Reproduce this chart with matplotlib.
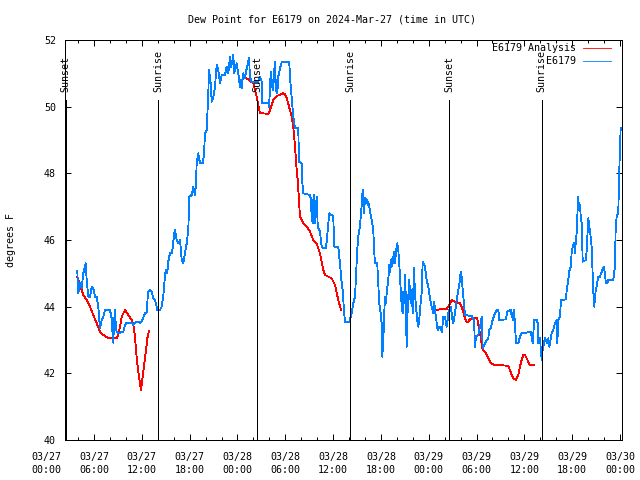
import numpy as np
import matplotlib
matplotlib.use('Agg')
import matplotlib.pyplot as plt
import matplotlib.transforms as mtransforms

plt.rcParams['font.family'] = 'DejaVu Sans Mono'
plt.rcParams['font.size'] = 7.2

# time axis: hours since 2024-03-27 00:00 UTC
obs_hr = [3.90, 4.03, 4.24, 4.45, 4.65, 4.96, 5.08, 5.28, 5.50, 5.71, 5.91, 6.12, 6.34, 6.54, 6.66,
          6.75, 6.96, 7.16, 7.38, 7.59, 8.00, 8.22, 8.29, 8.42, 8.51, 8.63, 8.76, 8.92, 9.26, 9.67,
          9.89, 10.10, 10.73, 10.93, 11.14, 11.56, 11.77, 11.98, 12.40, 12.61, 12.74, 12.81, 13.02,
          13.24, 13.44, 13.65, 13.86, 13.94, 14.28, 14.49, 14.69, 14.91, 15.03, 15.19, 15.32, 15.53,
          15.75, 15.87, 16.04, 16.16, 16.37, 16.57, 16.79, 17.00, 17.20, 17.42, 17.63, 17.83, 17.96,
          18.26, 18.46, 18.67, 18.80, 18.88, 19.08, 19.30, 19.64, 19.80, 19.92, 20.14, 20.21, 20.34,
          20.43, 20.55, 20.64, 20.77, 20.97, 21.18, 21.39, 21.59, 21.81, 22.02, 22.43, 22.65, 22.85,
          23.06, 23.19, 23.31, 23.48, 23.60, 23.73, 23.90, 24.10, 24.32, 24.40, 24.53, 24.73, 24.94,
          25.16, 25.45, 25.57, 25.78, 26.61, 26.83, 27.04, 27.11, 27.87, 27.96, 28.08, 28.17, 28.29,
          28.37, 28.49, 28.58, 28.71, 28.83, 29.00, 29.12, 29.34, 29.55, 30.50, 30.59, 30.80, 31.00,
          31.22, 31.63, 31.72, 32.06, 32.13, 32.26, 33.10, 33.19, 33.31, 33.44, 33.51, 33.64, 33.73,
          33.94, 34.07, 34.35, 34.57, 34.77, 35.11, 35.32, 35.52, 35.82, 36.02, 36.15, 36.65, 36.86,
          37.08, 37.20, 37.36, 37.49, 38.03, 38.33, 38.53, 38.75, 38.87, 39.03, 39.16, 39.37, 39.50,
          39.59, 39.71, 39.79, 39.87, 40.00, 40.21, 40.34, 40.41, 40.54, 40.63, 40.84, 41.04, 41.13,
          41.25, 41.54, 41.67, 41.79, 41.97, 42.09, 42.17, 42.30, 42.42, 42.51, 42.64, 42.72, 42.92,
          43.05, 43.14, 43.22, 43.35, 43.47, 43.55, 43.68, 43.76, 43.89, 44.05, 44.18, 44.30, 44.39,
          44.61, 44.73, 44.81, 44.93, 45.06, 45.14, 45.23, 45.31, 45.43, 45.56, 45.73, 45.86, 45.99,
          46.15, 46.27, 46.40, 46.56, 46.69, 46.81, 46.90, 47.11, 47.24, 47.31, 47.53, 47.74, 47.94,
          48.16, 48.37, 48.57, 48.70, 48.78, 48.91, 49.00, 49.12, 49.25, 49.41, 49.53, 49.66, 49.82,
          50.04, 50.25, 50.38, 50.50, 50.58, 50.75, 50.88, 51.00, 51.08, 51.29, 51.51, 51.71, 51.92,
          52.01, 52.13, 52.26, 52.42, 52.55, 53.39, 53.68, 53.81, 53.93, 54.22, 54.43, 54.65, 54.77,
          55.06, 55.27, 55.47, 55.60, 55.77, 56.02, 56.31, 56.52, 56.73, 56.85, 57.69, 57.86, 58.28,
          58.41, 58.53, 58.61, 58.70, 58.82, 58.95, 59.23, 59.45, 59.66, 60.79, 60.91, 61.04, 61.24,
          61.54, 61.67, 61.74, 61.96, 62.04, 62.17, 62.29, 62.46, 62.58, 62.71, 62.87, 63.00, 63.12,
          63.21, 63.42, 63.63, 63.84, 64.05, 64.13, 64.25, 64.47, 64.59, 65.22, 65.31, 65.51, 65.63,
          65.81, 65.93, 66.06, 66.22, 66.35, 66.47, 66.56, 66.64, 66.76, 66.85, 66.98, 67.06, 67.19,
          67.32, 67.73, 67.82, 67.94, 68.02, 68.14, 68.23, 68.44, 68.64, 68.77, 68.95, 69.07, 69.27,
          69.49, 69.70, 69.99, 70.11, 70.24, 70.40, 70.53, 71.15, 71.37, 71.45, 71.58, 71.78, 71.91,
          72.00, 72.08]
obs_f = [45.08, 44.40, 44.70, 44.55, 45.00, 45.30, 44.80, 44.30, 44.30, 44.60, 44.55, 44.30, 44.30, 44.00, 43.60,
         43.35, 43.60, 43.70, 43.90, 43.90, 43.90, 43.65, 43.30, 42.92, 43.50, 43.90, 43.30, 43.22, 43.22, 43.25,
         43.45, 43.52, 43.52, 43.45, 43.52, 43.55, 43.50, 43.55, 43.80, 43.82, 44.30, 44.45, 44.50,
         44.45, 44.25, 44.20, 44.00, 43.90, 43.90, 44.00, 44.30, 44.95, 45.10, 45.00, 45.35, 45.60,
         45.60, 45.75, 46.15, 46.30, 46.00, 45.90, 46.00, 45.40, 45.30, 45.60, 45.90, 46.30, 47.30,
         47.35, 47.60, 47.35, 47.70, 48.30, 48.60, 48.30, 48.30, 48.55, 49.20, 49.30, 49.70, 50.40,
         51.10, 50.85, 50.70, 50.15, 50.30, 50.60, 51.25, 51.10, 50.70, 50.95, 50.95, 51.20, 51.00,
         51.50, 51.20, 51.30, 51.55, 51.00, 51.15, 51.30, 51.00, 50.60, 50.80, 50.55, 51.00, 50.85,
         51.15, 51.45, 50.90, 50.75, 50.75, 50.90, 50.75, 50.10, 50.10, 50.00, 50.50, 51.05, 50.60,
         50.80, 50.50, 51.00, 51.35, 50.50, 50.40, 50.90, 51.15, 51.33, 51.33, 50.90, 50.30, 49.70,
         49.35, 49.35, 48.35, 48.30, 47.75, 47.40, 47.35, 47.25, 46.70, 46.50, 47.20, 47.35, 46.50,
         47.30, 46.40, 46.25, 45.80, 45.75, 45.75, 46.30, 46.80, 46.75, 46.70, 45.80, 45.80, 45.30,
         44.70, 44.50, 43.90, 43.55, 43.55, 43.80, 44.10, 44.30, 44.90, 45.70, 46.10, 46.40, 46.80,
         47.05, 47.50, 47.35, 46.80, 47.25, 47.20, 47.05, 47.15, 47.00, 46.85, 46.60, 46.30, 45.80,
         45.30, 45.30, 44.70, 44.10, 43.80, 43.50, 42.50, 43.00, 43.80, 44.30, 44.10, 44.40, 44.80,
         45.25, 45.05, 45.40, 45.20, 45.50, 45.30, 45.65, 45.30, 45.65, 45.90, 45.70, 45.30, 44.90,
         44.00, 43.80, 44.45, 44.10, 44.95, 43.80, 42.80, 43.60, 44.30, 44.80, 44.10, 44.50, 43.80,
         45.15, 44.40, 44.00, 43.60, 43.40, 43.60, 43.90, 44.40, 45.35, 45.30, 45.20, 44.80, 44.60,
         44.25, 44.00, 43.80, 44.15, 43.90, 43.70, 43.50, 43.30, 43.40, 43.40, 43.30, 43.25, 43.70,
         43.70, 43.40, 43.60, 43.90, 43.85, 44.00, 43.80, 43.55, 43.50, 43.80, 44.20, 44.50, 44.80,
         45.05, 44.90, 44.50, 44.10, 43.75, 43.72, 43.60, 42.80, 43.10, 43.15, 43.40, 43.70, 42.75,
         42.90, 43.00, 43.05, 43.30, 43.35, 43.60, 43.80, 43.90, 43.90, 43.60, 43.62, 43.85, 43.90,
         43.70, 43.80, 43.60, 43.90, 43.50, 42.90, 42.90, 43.10, 43.20, 43.24, 43.10, 42.90, 43.60,
         43.60, 43.50, 42.90, 43.05, 42.80, 42.40, 42.70, 42.90, 43.05, 43.00, 42.90, 43.05, 42.80,
         42.90, 43.20, 43.30, 43.50, 43.60, 42.90, 43.60, 43.70, 44.20, 44.22, 44.50, 44.80, 45.05,
         45.20, 45.60, 45.80, 45.90, 45.60, 46.00, 46.20, 46.70, 47.30, 46.90, 47.05, 46.75, 46.50,
         45.35, 45.40, 45.70, 46.30, 46.65, 46.40, 46.30, 45.80, 44.50, 44.00, 44.50, 44.60, 44.90,
         44.90, 45.05, 45.20, 44.95, 44.70, 44.70, 44.80, 44.80, 45.20, 46.30, 46.70, 46.80, 48.10,
         48.80, 49.35]

# analysis, gaps where there is no value
ana_hr = [3.90, 4.24, 4.65, 5.08, 5.50, 5.91, 6.34, 6.75, 7.16, 7.79, 8.85, 9.05, 9.26, 9.47, 9.89,
          10.30, 10.73, 10.93, 11.14, 11.36, 11.56, 11.77, 11.89, 12.11, 12.28, 12.53, 12.69, 12.87, 12.94,
          np.nan,
          24.73, 25.16, 25.57, 25.99, 26.41, 26.61, 26.83, 27.24, 27.87, 28.08, 28.49, 28.92, 29.75,
          29.96, 30.18, 30.59, 30.80, 31.00, 31.22, 31.43, 31.56, 31.72, 31.84, 32.26, 32.69, 33.10,
          33.51, 33.94, 34.35, 34.77, 34.98, 35.82, 36.24, 36.65, 36.99,
          np.nan,
          49.00, 49.41, 50.25, 50.58, 50.88, 51.29, 51.92, 52.13, 52.34, 52.55, 52.76, 52.96, 53.18,
          53.59, 53.93, 54.09, 54.22, 54.34, 54.52, 54.65, 54.77, 55.06, 55.27, 55.47, 55.68, 55.90,
          56.31, 57.35, 57.98, 58.19, 58.41, 58.61, 58.95, 59.23, 59.45, 59.66, 59.86, 60.08, 60.29,
          60.49, 60.70, 61.20]
ana_f = [44.88, 44.65, 44.35, 44.20, 44.00, 43.75, 43.50, 43.25, 43.15, 43.05, 43.05, 43.15, 43.40, 43.70, 43.90,
         43.75, 43.60, 43.45, 43.10, 42.45, 42.05, 41.70, 41.50, 41.90, 42.25, 42.70, 43.05, 43.25, 43.27,
         np.nan,
         50.90, 50.85, 50.78, 50.70, 50.30, 50.05, 49.80, 49.80, 49.78, 49.90, 50.20, 50.32, 50.40,
         50.38, 50.25, 49.90, 49.70, 49.40, 48.80, 48.10, 47.80, 47.20, 46.70, 46.50, 46.40, 46.25,
         46.00, 45.90, 45.60, 45.10, 44.95, 44.85, 44.65, 44.20, 43.90,
         np.nan,
         43.90, 43.92, 43.92, 44.05, 44.20, 44.15, 44.10, 44.00, 43.85, 43.65, 43.55, 43.55, 43.62,
         43.67, 43.67, 43.65, 43.45, 43.30, 43.10, 42.85, 42.70, 42.65, 42.55, 42.45, 42.35, 42.28,
         42.25, 42.24, 42.22, 42.10, 41.95, 41.85, 41.80, 41.95, 42.20, 42.40, 42.55, 42.55, 42.45,
         42.35, 42.25, 42.24]

sun_hr = [2.45, 14.07, 26.51, 38.12, 50.58, 62.17]
sun_lbl = ['Sunset', 'Sunrise', 'Sunset', 'Sunrise', 'Sunset', 'Sunrise']

tick_hr = list(range(0, 73, 6))
tick_lbl = ['03/27\n00:00', '03/27\n06:00', '03/27\n12:00', '03/27\n18:00',
            '03/28\n00:00', '03/28\n06:00', '03/28\n12:00', '03/28\n18:00',
            '03/29\n00:00', '03/29\n06:00', '03/29\n12:00', '03/29\n18:00',
            '03/30\n00:00']

fig = plt.figure(figsize=(6.4, 4.8), dpi=100)
ax = fig.add_axes([65/640, 40/480, 557/640, 400/480])

ax.plot(ana_hr, ana_f, color='#ff0000', lw=0.6, antialiased=False, label='E6179 Analysis')
ax.plot(obs_hr, obs_f, color='#0080ff', lw=0.6, antialiased=False, label='E6179')

ax.vlines(sun_hr, 40, 50.2, color='black', lw=0.72, antialiased=False)
for h, s in zip(sun_hr, sun_lbl):
    ax.text(h, 50.45, s, rotation=90, ha='center', va='bottom')

ax.set_xlim(2.36, 72.25)
ax.set_ylim(40, 52)
ax.set_yticks(range(40, 53, 2))
ax.set_xticks([h for h in tick_hr if h > 2.36])
ax.set_xticks(range(4, 73, 2), minor=True)
ax.set_xticklabels([])
ax.tick_params(direction='in', top=True, right=True, length=4, width=0.72, pad=6.5)
ax.tick_params(which='minor', direction='in', top=True, length=2, width=0.72)
for sp in ax.spines.values():
    sp.set_linewidth(0.72)

# time labels (first one sits left of the frame, like the original)
trans = mtransforms.blended_transform_factory(ax.transData, ax.transAxes) + \
    mtransforms.ScaledTranslation(0, -8.5/72, fig.dpi_scale_trans)
for h, s in zip(tick_hr, tick_lbl):
    ax.text(h, 0, s, transform=trans, ha='center', va='top', linespacing=1.45, clip_on=False)

ax.legend(loc='upper right', bbox_to_anchor=(611/640, 1 - 43/480), bbox_transform=fig.transFigure,
          frameon=False, markerfirst=False, handlelength=2.8, handletextpad=0.7,
          borderpad=0, borderaxespad=0, labelspacing=0.3)

fig.text(332/640, 1 - 19/480, 'Dew Point for E6179 on 2024-Mar-27 (time in UTC)', ha='center', va='center')
fig.text(11/640, 0.5, 'degrees F', rotation=90, ha='center', va='center')

fig.savefig('out.png', dpi=100)
